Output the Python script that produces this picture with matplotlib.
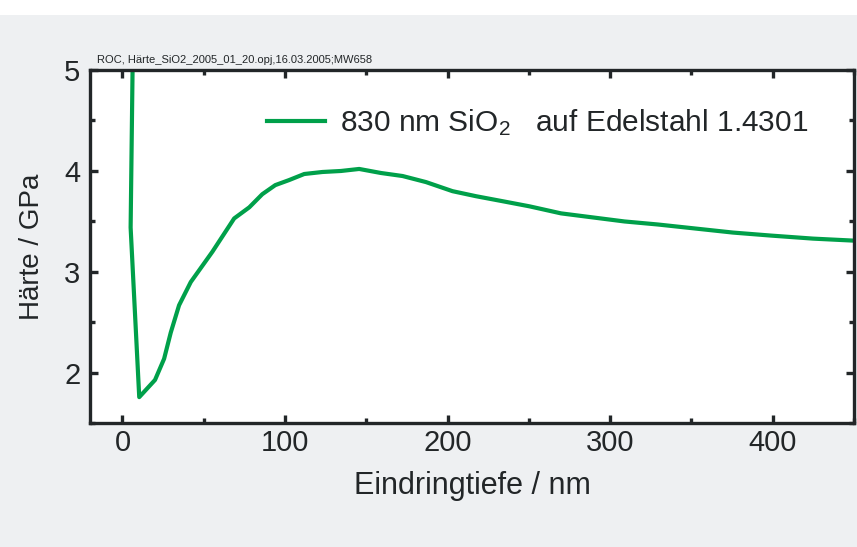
import matplotlib
matplotlib.use("Agg")
import matplotlib.pyplot as plt
from matplotlib.ticker import MultipleLocator
from matplotlib.patches import Rectangle

# Eindringtiefe (nm) and Haerte (GPa)
depth = [6.5, 5.0, 10.3, 20.0, 25.6, 29.7, 34.8, 42.0, 55.3, 68.7, 78.0, 86.0,
         94.0, 102.5, 111.8, 123.0, 134.4, 145.6, 159.0, 172.3, 186.7, 203.0,
         217.5, 234.0, 250.3, 269.8, 308.8, 329.3, 375.5, 399.0, 424.8, 450.0]
hardness = [5.4, 3.44, 1.76, 1.93, 2.14, 2.40, 2.67, 2.90, 3.20, 3.53, 3.64, 3.77,
            3.86, 3.91, 3.97, 3.99, 4.00, 4.02, 3.98, 3.95, 3.89, 3.80,
            3.75, 3.70, 3.65, 3.58, 3.50, 3.47, 3.39, 3.36, 3.33, 3.31]

series_label = "830 nm SiO$_2$   auf Edelstahl 1.4301"
header = "ROC, Härte_SiO2_2005_01_20.opj,16.03.2005;MW658"

plt.rcParams['font.family'] = ['Liberation Sans', 'DejaVu Sans']
plt.rcParams['mathtext.default'] = 'regular'

fig = plt.figure(figsize=(8.57, 5.47), dpi=100, facecolor='#eef0f2')
# white strip along the top of the picture
fig.patches.append(Rectangle((0, 0.972), 1, 0.03, transform=fig.transFigure,
                             facecolor='white', edgecolor='none'))
ax = fig.add_axes([0.105, 0.226, 0.8915, 0.646])
ax.set_facecolor('white')

ax.plot(depth, hardness, color='#00a04a', lw=3.0, label=series_label)

ax.set_xlim(-20, 450)
ax.set_ylim(1.5, 5)
ax.xaxis.set_major_locator(MultipleLocator(100))
ax.xaxis.set_minor_locator(MultipleLocator(50))
ax.yaxis.set_major_locator(MultipleLocator(1))
ax.yaxis.set_minor_locator(MultipleLocator(0.5))

for s in ax.spines.values():
    s.set_linewidth(2.4)
    s.set_color('#222628')
ax.tick_params(which='both', direction='in', top=True, right=True,
               color='#222628', width=2.4)
ax.tick_params(which='major', length=6, labelsize=21, labelcolor='#222628')
ax.tick_params(axis='x', which='major', pad=4)
ax.tick_params(axis='y', which='major', pad=7)
ax.tick_params(which='minor', length=3.5)

ax.set_xlabel("Eindringtiefe / nm", fontsize=22, color='#222628', labelpad=10)
ax.set_ylabel("Härte / GPa", fontsize=20, color='#222628', labelpad=14)

ax.legend(loc='upper left', bbox_to_anchor=(0.196, 0.97), frameon=False,
          fontsize=21.5, handlelength=1.95, handletextpad=0.5,
          labelcolor='#222628')

fig.text(0.113, 0.885, header, fontsize=8, color='#222628')

fig.savefig("out.png", dpi=100, facecolor=fig.get_facecolor())
